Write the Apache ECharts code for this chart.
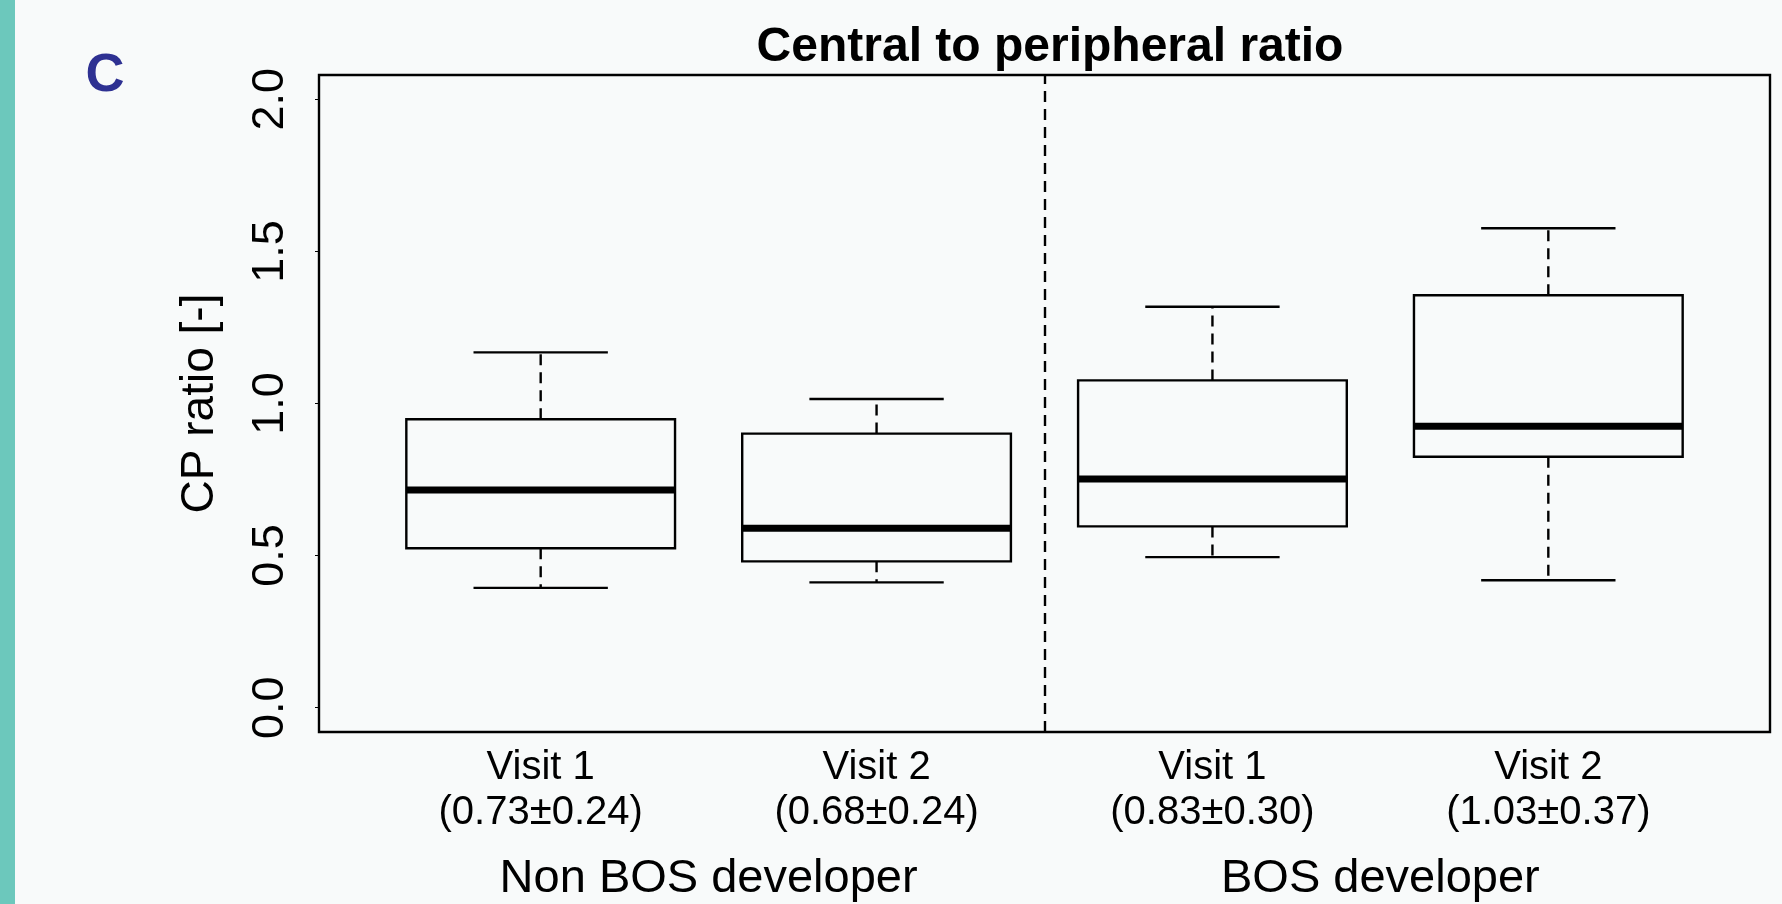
<!DOCTYPE html>
<html>
<head>
<meta charset="utf-8">
<script src="https://cdn.jsdelivr.net/npm/echarts@6/dist/echarts.min.js"></script>
<style>
  html, body { margin: 0; padding: 0; background: #f8fafa; }
  #chart { width: 1782px; height: 904px; }
</style>
</head>
<body>
<div id="chart"></div>
<script>
// valeurs (boxplot R, échelle 0-2)
const positions = [ 1, 2, 3, 4 ];
const visitLabels = [ 'Visit 1', 'Visit 2', 'Visit 1', 'Visit 2' ];
const meanSd = [ '(0.73±0.24)', '(0.68±0.24)', '(0.83±0.30)', '(1.03±0.37)' ];
const groupPositions = [ 1.5, 3.5 ];
const groupLabels = [ 'Non BOS developer', 'BOS developer' ];
const lowWhisker = [ 0.394, 0.412, 0.495, 0.419 ];
const q1 = [ 0.524, 0.481, 0.596, 0.825 ];
const medians = [ 0.716, 0.590, 0.752, 0.925 ];
const q3 = [ 0.948, 0.901, 1.076, 1.356 ];
const highWhisker = [ 1.168, 1.015, 1.318, 1.576 ];
const yTicks = [ 0, 0.5, 1, 1.5, 2 ];
const separatorAt = 2.5;

const font = '"Liberation Sans", Arial, Helvetica, sans-serif';
const boxData = positions.map( ( p, i ) => [ p, lowWhisker[ i ], q1[ i ], medians[ i ], q3[ i ], highWhisker[ i ] ] );

function renderBox ( params, api ) {
  const x = api.value( 0 );
  const half = api.size( [ 0.4, 0 ] )[ 0 ]; // boxwex 0.8
  const stapleHalf = api.size( [ 0.2, 0 ] )[ 0 ];
  const pLow = api.coord( [ x, api.value( 1 ) ] );
  const pQ1 = api.coord( [ x, api.value( 2 ) ] );
  const pMed = api.coord( [ x, api.value( 3 ) ] );
  const pQ3 = api.coord( [ x, api.value( 4 ) ] );
  const pHigh = api.coord( [ x, api.value( 5 ) ] );
  const cx = pMed[ 0 ];
  const solid = { stroke: '#000', lineWidth: 2.4, fill: null };
  const dashed = { stroke: '#000', lineWidth: 2.4, lineDash: [ 11, 7 ] };
  return {
    type: 'group',
    children: [
      { type: 'line', shape: { x1: cx, y1: pQ3[ 1 ], x2: cx, y2: pHigh[ 1 ] }, style: dashed },
      { type: 'line', shape: { x1: cx, y1: pQ1[ 1 ], x2: cx, y2: pLow[ 1 ] }, style: dashed },
      { type: 'line', shape: { x1: cx - stapleHalf, y1: pHigh[ 1 ], x2: cx + stapleHalf, y2: pHigh[ 1 ] }, style: solid },
      { type: 'line', shape: { x1: cx - stapleHalf, y1: pLow[ 1 ], x2: cx + stapleHalf, y2: pLow[ 1 ] }, style: solid },
      { type: 'rect', shape: { x: cx - half, y: pQ3[ 1 ], width: 2 * half, height: pQ1[ 1 ] - pQ3[ 1 ] }, style: solid },
      { type: 'line', shape: { x1: cx - half, y1: pMed[ 1 ], x2: cx + half, y2: pMed[ 1 ] }, style: { stroke: '#000', lineWidth: 7 } }
    ]
  };
}

const chart = echarts.init( document.getElementById( 'chart' ) );

chart.setOption( {
  backgroundColor: '#f8fafa',
  animation: false,
  title: {
    text: 'Central to peripheral ratio',
    left: 1045,
    top: 19,
    textAlign: 'center',
    textStyle: { fontFamily: font, fontSize: 48, fontWeight: 'bold', color: '#000' }
  },
  graphic: [
    { type: 'rect', left: 0, top: 0, shape: { width: 15, height: 904 }, style: { fill: '#6cc8bc' } },
    { type: 'text', x: 105, y: 76, style: { text: 'C', fontFamily: font, fontSize: 54, fontWeight: 'bold', fill: '#2e3192', align: 'center', verticalAlign: 'middle' } }
  ],
  grid: {
    left: 319, right: 12, top: 75, bottom: 172,
    show: true, borderColor: '#000', borderWidth: 2.4, backgroundColor: 'transparent'
  },
  xAxis: [
    {
      type: 'value', min: 0.34, max: 4.66,
      axisLine: { show: false },
      splitLine: { show: false },
      axisTick: { show: false },
      axisLabel: {
        customValues: positions,
        formatter: ( v ) => {
          const i = positions.indexOf( v );
          return i < 0 ? '' : visitLabels[ i ] + '\n' + meanSd[ i ];
        },
        margin: 13,
        fontFamily: font, fontSize: 40, lineHeight: 45, color: '#000'
      }
    },
    {
      type: 'value', min: 0.34, max: 4.66, position: 'bottom',
      axisLine: { show: false },
      splitLine: { show: false },
      axisTick: { show: false },
      axisLabel: {
        customValues: groupPositions,
        formatter: ( v ) => {
          const i = groupPositions.indexOf( v );
          return i < 0 ? '' : groupLabels[ i ];
        },
        margin: 124,
        fontFamily: font, fontSize: 47, lineHeight: 47, color: '#000'
      }
    }
  ],
  yAxis: {
    type: 'value', min: -0.08, max: 2.08,
    name: 'CP ratio [-]',
    nameLocation: 'middle',
    nameRotate: 90,
    nameGap: 96,
    nameTextStyle: { fontFamily: font, fontSize: 46, color: '#000' },
    axisLine: { show: false },
    splitLine: { show: false },
    axisTick: { show: true, customValues: yTicks, length: 4, lineStyle: { color: '#000', width: 1 } },
    axisLabel: {
      customValues: yTicks,
      rotate: 90,
      margin: 26,
      formatter: ( v ) => v.toFixed( 1 ),
      fontFamily: font, fontSize: 45, color: '#000'
    }
  },
  series: [
    {
      type: 'custom',
      xAxisIndex: 0,
      renderItem: renderBox,
      data: boxData,
      encode: { x: 0, y: [ 1, 2, 3, 4, 5 ] },
      silent: true,
      markLine: {
        silent: true,
        symbol: 'none',
        label: { show: false },
        lineStyle: { color: '#000', width: 2.4, type: [ 11, 7 ] },
        data: [ { xAxis: separatorAt } ]
      }
    }
  ]
} );
</script>
</body>
</html>
